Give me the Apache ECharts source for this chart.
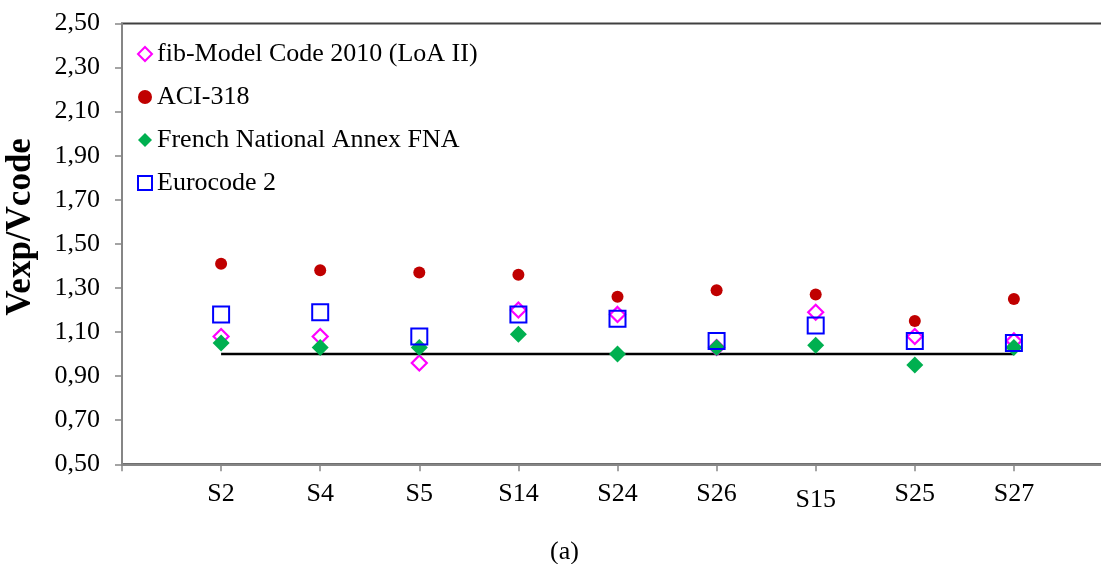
<!DOCTYPE html>
<html>
<head>
<meta charset="utf-8">
<script src="https://cdn.jsdelivr.net/npm/echarts@6/dist/echarts.min.js"></script>
<style>
html,body{margin:0;padding:0;background:#fff;}
#chart{width:1101px;height:564px;}
</style>
</head>
<body>
<div id="chart"></div>
<script>
const categories = ['S2','S4','S5','S14','S24','S26','S15','S25','S27'];
const fibMC2010 = [1.08,1.08,0.96,1.20,1.18,1.03,1.19,1.08,1.06];
const aci318 = [1.41,1.38,1.37,1.36,1.26,1.29,1.27,1.15,1.25];
const frenchFNA = [1.05,1.03,1.03,1.09,1.00,1.03,1.04,0.95,1.03];
const eurocode2 = [1.18,1.19,1.08,1.18,1.16,1.06,1.13,1.06,1.05];
const yTickLabels = ['0,50','0,70','0,90','1,10','1,30','1,50','1,70','1,90','2,10','2,30','2,50'];
const referenceLevel = 1.00;
const seriesNames = ['fib-Model Code 2010 (LoA II)','ACI-318','French National Annex FNA','Eurocode 2'];

const FONT = 'Liberation Serif';
const toPoints = arr => arr.map((v, i) => [i + 1, v]);

const chart = echarts.init(document.getElementById('chart'), null, {renderer: 'canvas'});
chart.setOption({
  animation: false,
  backgroundColor: '#ffffff',
  textStyle: {fontFamily: FONT},
  grid: {
    left: 122, top: 23.5, right: -12, bottom: 99.7,
    outerBoundsMode: 'none', containLabel: false,
    show: true, borderColor: '#404040', borderWidth: 2, backgroundColor: 'transparent'
  },
  legend: {
    orient: 'vertical', left: 132, top: 36,
    itemWidth: 14, itemHeight: 14, itemGap: 17,
    textStyle: {fontFamily: FONT, fontSize: 26, color: '#000', lineHeight: 25},
    data: seriesNames
  },
  xAxis: {
    type: 'value', min: 0, max: categories.length + 1, interval: 1,
    splitLine: {show: false},
    axisLine: {lineStyle: {color: '#868686', width: 2}},
    axisTick: {show: true, length: 7, lineStyle: {color: '#868686', width: 1.5}},
    axisLabel: {
      margin: 17, fontFamily: FONT, fontSize: 26, color: '#000',
      showMinLabel: true, showMaxLabel: true, hideOverlap: false,
      formatter: v => {
        const c = categories[v - 1];
        if (!c) return '';
        return c === 'S15' ? '{lo|' + c + '}' : c;
      },
      rich: {lo: {fontFamily: FONT, fontSize: 26, color: '#000', lineHeight: 38}}
    }
  },
  yAxis: [
    {type: 'value', min: 0.5, max: 2.5, show: false},
    {
      type: 'category', data: yTickLabels, boundaryGap: false, position: 'left',
      name: 'Vexp/Vcode', nameLocation: 'middle', nameGap: 84, nameRotate: 90,
      nameTextStyle: {fontFamily: FONT, fontSize: 35, fontWeight: 'bold', color: '#000', padding: [0, 0, 0, 34]},
      axisLine: {show: true, lineStyle: {color: '#868686', width: 2}},
      axisTick: {show: true, length: 7, alignWithLabel: true, lineStyle: {color: '#868686', width: 1.5}},
      axisLabel: {margin: 22, fontFamily: FONT, fontSize: 26, color: '#000', interval: 0},
      splitLine: {show: false}
    }
  ],
  series: [
    {
      type: 'line', yAxisIndex: 0, silent: true, symbol: 'none', z: 1,
      data: [[1, referenceLevel], [categories.length, referenceLevel]],
      lineStyle: {color: '#000', width: 2.5}
    },
    {
      name: seriesNames[0], type: 'scatter', yAxisIndex: 0, z: 2,
      symbol: 'diamond', symbolSize: 15,
      itemStyle: {color: '#ffffff', borderColor: '#FF00FF', borderWidth: 2.2, opacity: 1},
      data: toPoints(fibMC2010)
    },
    {
      name: seriesNames[1], type: 'scatter', yAxisIndex: 0, z: 3,
      symbol: 'circle', symbolSize: 12,
      itemStyle: {color: '#C00000', opacity: 1},
      data: toPoints(aci318)
    },
    {
      name: seriesNames[2], type: 'scatter', yAxisIndex: 0, z: 4,
      symbol: 'diamond', symbolSize: 17,
      itemStyle: {color: '#00B050', opacity: 1},
      data: toPoints(frenchFNA)
    },
    {
      name: seriesNames[3], type: 'scatter', yAxisIndex: 0, z: 5,
      symbol: 'rect', symbolSize: 16,
      itemStyle: {color: 'rgba(255,255,255,0)', borderColor: '#0000FF', borderWidth: 2, opacity: 1},
      data: toPoints(eurocode2)
    }
  ],
  graphic: [{
    type: 'text', left: 550, top: 539,
    style: {text: '(a)', fontFamily: FONT, fontSize: 26, fill: '#000'}
  }]
});
</script>
</body>
</html>
